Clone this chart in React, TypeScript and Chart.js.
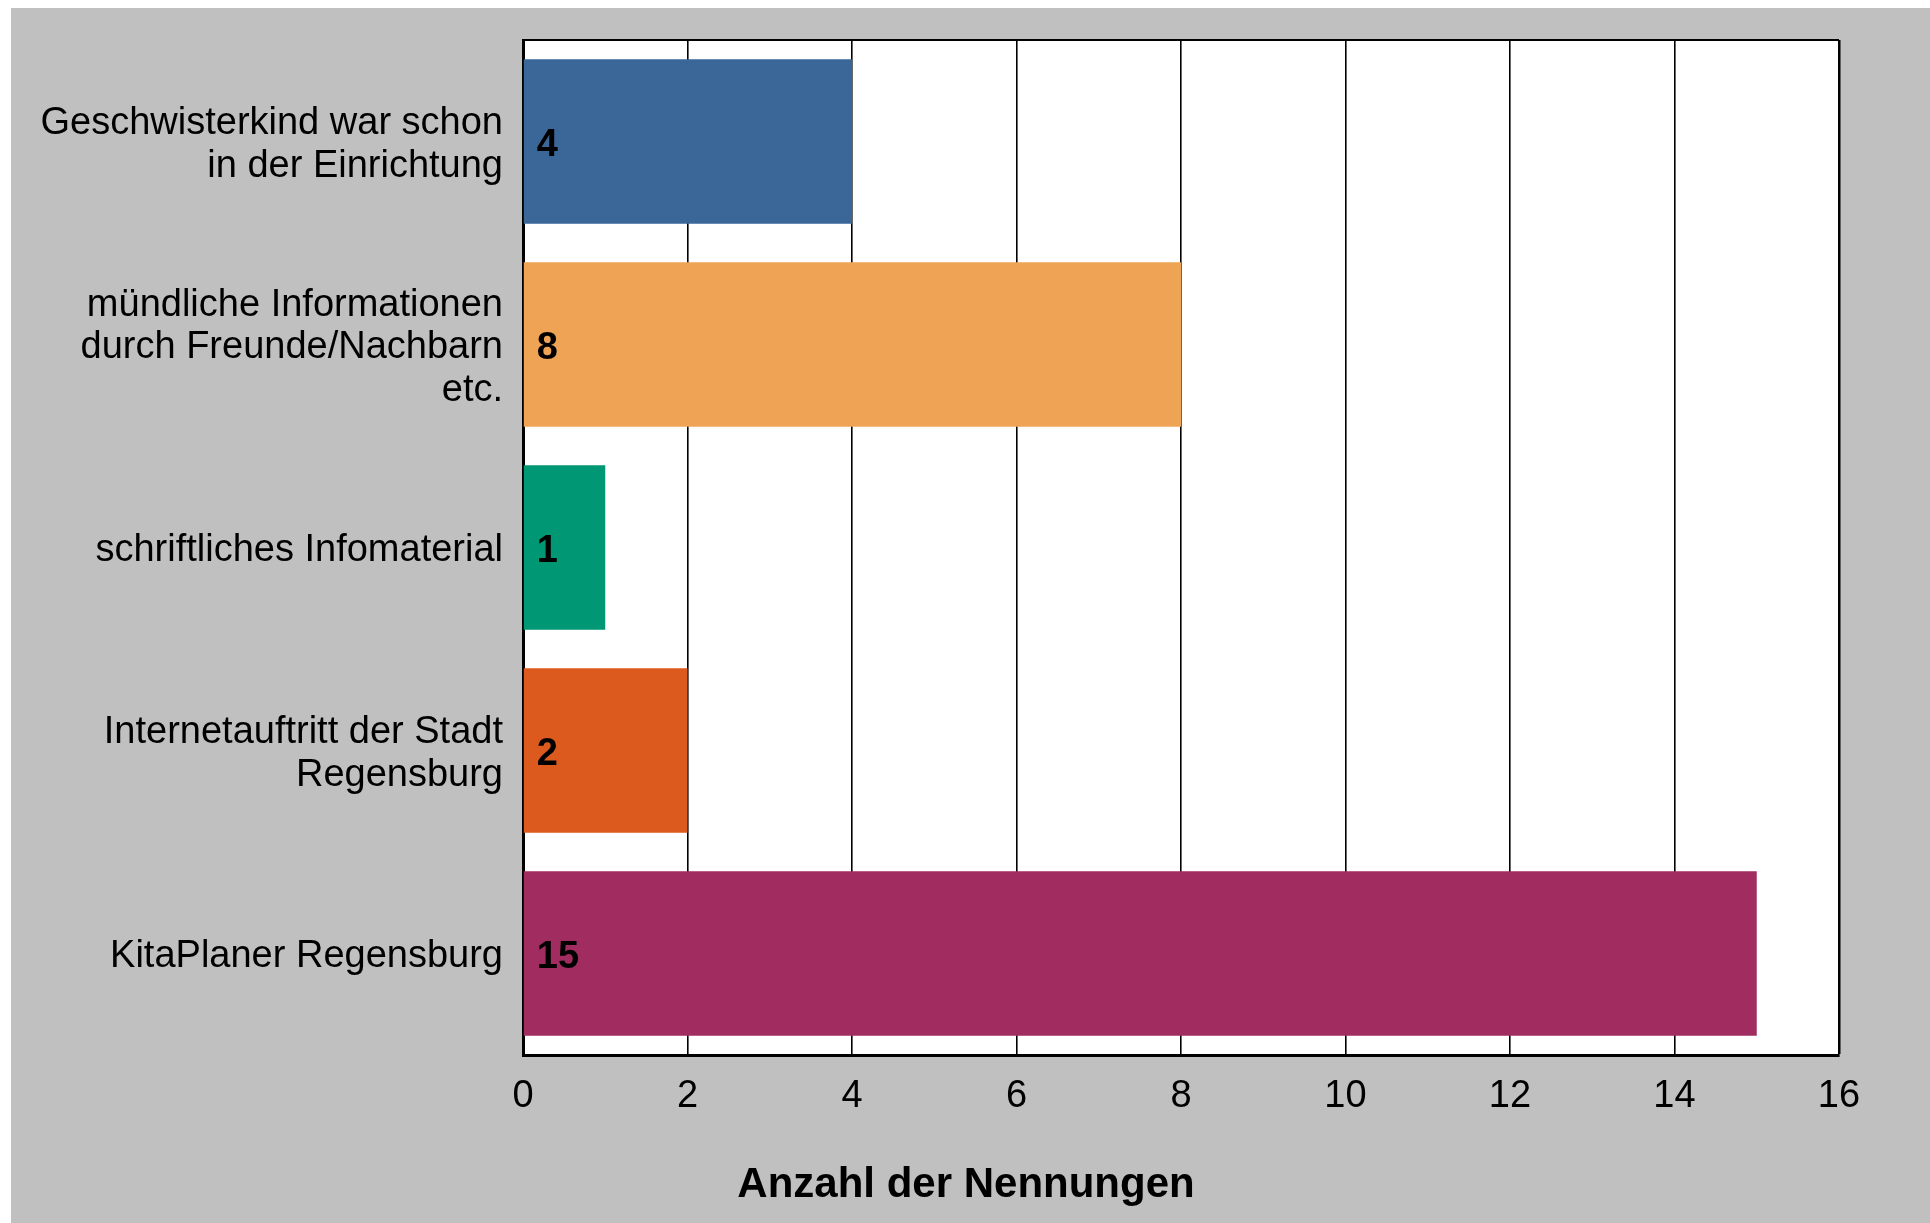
import { useEffect, useRef } from 'react';
import { Chart, registerables } from 'chart.js';

Chart.register(...registerables);

const categories: (string | string[])[] = [
  ['Geschwisterkind war schon', 'in der Einrichtung'],
  ['mündliche Informationen', 'durch Freunde/Nachbarn', 'etc.'],
  'schriftliches Infomaterial',
  ['Internetauftritt der Stadt', 'Regensburg'],
  'KitaPlaner Regensburg',
];
const values = [4, 8, 1, 2, 15];
const barColors = ['#3A6698', '#EFA354', '#009774', '#DD5A1F', '#A12D60'];
const axisMin = 0;
const axisMax = 16;
const axisStep = 2;
const axisTitle = 'Anzahl der Nennungen';

const FONT = '"Liberation Sans", Arial, sans-serif';
const CANVAS_W = 1919;
const CANVAS_H = 1215;
const TITLE_PAD_BOTTOM = 12;
const TITLE_LINE = 42 * 1.2;
const PLOT_BOTTOM = 1047;

const plotBackground = {
  id: 'plotBackground',
  beforeDraw(chart: any) {
    const { ctx, chartArea: a } = chart;
    ctx.save();
    ctx.fillStyle = '#FFFFFF';
    ctx.fillRect(a.left, a.top, a.right - a.left, a.bottom - a.top);
    ctx.restore();
  },
};

const valueLabels = {
  id: 'valueLabels',
  afterDatasetsDraw(chart: any) {
    const { ctx } = chart;
    const meta = chart.getDatasetMeta(0);
    const data = chart.data.datasets[0].data;
    ctx.save();
    ctx.font = `bold 38px ${FONT}`;
    ctx.fillStyle = '#000000';
    ctx.textAlign = 'left';
    ctx.textBaseline = 'middle';
    meta.data.forEach((el: any, i: number) => {
      ctx.fillText(String(data[i]), el.base + 13, el.y + 4.5);
    });
    ctx.restore();
  },
};

export default function App() {
  const ref = useRef<HTMLCanvasElement>(null);

  useEffect(() => {
    if (!ref.current) return;
    const chart = new Chart(ref.current, {
      type: 'bar',
      data: {
        labels: categories,
        datasets: [
          {
            data: values,
            backgroundColor: barColors,
            borderWidth: 0,
            barPercentage: 0.81,
            categoryPercentage: 1,
          },
        ],
      },
      options: {
        indexAxis: 'y',
        responsive: false,
        animation: false,
        devicePixelRatio: 1,
        layout: { padding: { left: 0, right: 9, top: 32, bottom: 0 } },
        plugins: {
          legend: { display: false },
          tooltip: { enabled: false },
          title: {
            display: true,
            position: 'bottom',
            text: axisTitle,
            color: '#000000',
            font: { family: FONT, size: 42, weight: 'bold', lineHeight: 1.2 },
            padding: { top: 0, bottom: TITLE_PAD_BOTTOM },
          },
        },
        scales: {
          x: {
            type: 'linear',
            position: 'bottom',
            min: axisMin,
            max: axisMax,
            ticks: {
              stepSize: axisStep,
              color: '#000000',
              font: { family: FONT, size: 38, lineHeight: 1.2 },
              padding: 19,
              maxRotation: 0,
            },
            grid: {
              display: true,
              drawTicks: false,
              color: '#000000',
              lineWidth: (c: any) => (c.tick && c.tick.value === axisMax ? 2.5 : 1.6),
            },
            border: { display: true, color: '#000000', width: 3 },
            afterFit: (s: any) => {
              s.height = CANVAS_H - (TITLE_LINE + TITLE_PAD_BOTTOM) - PLOT_BOTTOM;
            },
          },
          y: {
            type: 'category',
            position: 'left',
            z: 1,
            ticks: {
              color: '#000000',
              font: { family: FONT, size: 38, lineHeight: 1.13 },
              padding: 20,
              labelOffset: 3.5,
              autoSkip: false,
            },
            grid: {
              display: true,
              drawTicks: false,
              color: (c: any) => (c.index === 0 ? '#000000' : 'rgba(0,0,0,0)'),
              lineWidth: 2,
            },
            border: { display: true, color: '#000000', width: 3 },
            afterFit: (s: any) => {
              s.width = 512;
              s.paddingTop = 0;
              s.paddingBottom = 0;
            },
          },
          yRight: {
            type: 'linear',
            position: 'right',
            axis: 'y',
            display: true,
            grid: { display: false, drawTicks: false },
            ticks: { display: false },
            border: { display: false },
            afterFit: (s: any) => {
              s.width = 82;
              s.paddingTop = 0;
              s.paddingBottom = 0;
            },
          },
        },
      } as any,
      plugins: [plotBackground, valueLabels],
    });
    return () => chart.destroy();
  }, []);

  return (
    <div
      style={{
        position: 'fixed',
        left: 11,
        top: 8,
        width: CANVAS_W,
        height: CANVAS_H,
        background: '#C0C0C0',
      }}
    >
      <canvas
        ref={ref}
        width={CANVAS_W}
        height={CANVAS_H}
        style={{ display: 'block', width: CANVAS_W, height: CANVAS_H }}
      />
    </div>
  );
}
